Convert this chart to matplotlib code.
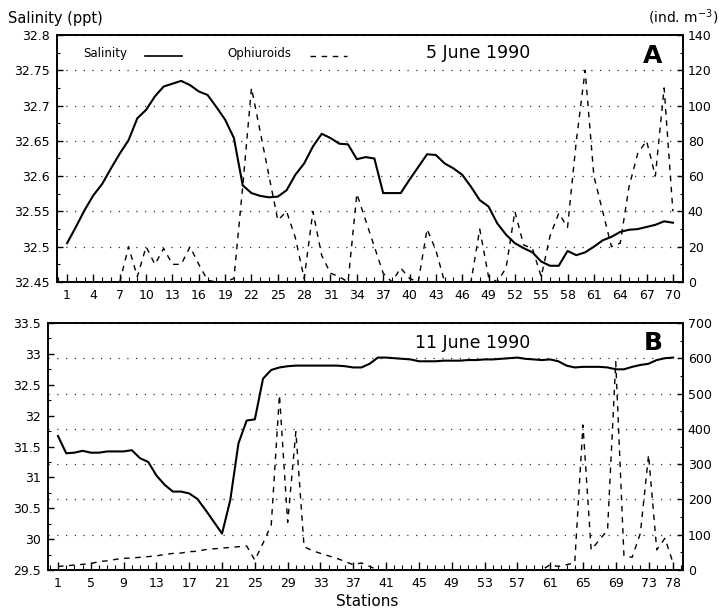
import numpy as np
import matplotlib
matplotlib.use("Agg")
from matplotlib import pyplot as plt
from matplotlib.ticker import MultipleLocator, FuncFormatter

# ---- panel A, 5 June 1990 ----
stations_a = list(range(1, 71))
salinity_a = [32.505, 32.528, 32.552, 32.573, 32.589, 32.611, 32.632, 32.651, 32.682, 32.694,
              32.713, 32.727, 32.731, 32.735, 32.729, 32.720, 32.715, 32.698, 32.680, 32.654,
              32.587, 32.576, 32.572, 32.570, 32.571, 32.580, 32.602, 32.618, 32.642, 32.660,
              32.654, 32.646, 32.645, 32.624, 32.627, 32.625, 32.576, 32.576, 32.576, 32.595,
              32.613, 32.631, 32.630, 32.618, 32.611, 32.602, 32.585, 32.566, 32.557, 32.533,
              32.517, 32.505, 32.498, 32.492, 32.479, 32.473, 32.473, 32.494, 32.488, 32.492,
              32.500, 32.509, 32.514, 32.521, 32.524, 32.525, 32.528, 32.531, 32.536, 32.534]
ophiuroids_a = [np.nan, np.nan, np.nan, np.nan, np.nan, np.nan, 0, 20, 3, 20,
                10, 19, 10, 10, 20, 10, 1, 0, 0, 2,
                54, 110, 85, 60, 35, 40, 25, 2, 40, 15,
                5, 3, 0, 50, 35, 20, 5, 0, 8, 2,
                0, 30, 18, 0, 0, 0, 0, 30, 3, 0,
                8, 40, 21, 19, 3, 26, 39, 31, 80, 120,
                60, 40, 20, 22, 54, 73, 80, 60, 110, 40]
ticks_a = list(range(1, 71, 3))
labels_a = [str(t) for t in ticks_a]

# ---- panel B, 11 June 1990 ----
stations_b = list(range(1, 77))
salinity_b = [31.67, 31.39, 31.40, 31.43, 31.40, 31.40, 31.42, 31.42, 31.42, 31.44,
              31.31, 31.25, 31.03, 30.88, 30.77, 30.77, 30.74, 30.65, 30.47, 30.28,
              30.09, 30.63, 31.55, 31.92, 31.94, 32.60, 32.74, 32.78, 32.80, 32.81,
              32.81, 32.81, 32.81, 32.81, 32.81, 32.80, 32.78, 32.78, 32.84, 32.94,
              32.94, 32.93, 32.92, 32.91, 32.88, 32.88, 32.88, 32.89, 32.89, 32.89,
              32.90, 32.90, 32.91, 32.91, 32.92, 32.93, 32.94, 32.92, 32.91, 32.90,
              32.91, 32.88, 32.81, 32.78, 32.79, 32.79, 32.79, 32.78, 32.75, 32.75,
              32.79, 32.82, 32.84, 32.90, 32.93, 32.94]
ophiuroids_b = [10, 12, 14, 16, 18, 24, 26, 30, 33, 34,
                36, 38, 40, 44, 47, 48, 52, 53, 58, 60,
                62, 64, 66, 68, 28, 76, 128, 496, 135, 392,
                66, 55, 47, 40, 33, 24, 15, 20, 10, 0,
                0, 0, 0, 0, 0, 0, 0, 0, 0, 0,
                0, 0, 0, 0, 0, 0, 0, 0, 0, 0,
                15, 10, 15, 20, 411, 57, 85, 113, 590, 40,
                36, 104, 326, 57, 90, 19]
ticks_b = list(range(1, 74, 4)) + [76]
labels_b = [str(t) for t in range(1, 74, 4)] + ["78"]

plt.rcParams["font.family"] = "DejaVu Sans"

fig = plt.figure(figsize=(7.19, 6.14), dpi=100)
W, H = 719.0, 614.0
ax1 = fig.add_axes([57 / W, 1 - 282 / H, 626 / W, 247 / H])
ax2 = fig.add_axes([48 / W, 1 - 570 / H, 635 / W, 247 / H])

fmt = FuncFormatter(lambda v, p: "%g" % round(v, 3))


def style(ax, axr, xmaj, xlabels, xlim, yl, ymaj, ymin, yr, rmaj, rmin):
    ax.set_xlim(*xlim)
    ax.set_ylim(*yl)
    axr.set_ylim(*yr)
    ax.set_xticks(xmaj)
    ax.set_xticklabels(xlabels)
    ax.xaxis.set_minor_locator(MultipleLocator(1))
    ax.yaxis.set_major_locator(MultipleLocator(ymaj))
    ax.yaxis.set_minor_locator(MultipleLocator(ymin))
    ax.yaxis.set_major_formatter(fmt)
    axr.yaxis.set_major_locator(MultipleLocator(rmaj))
    axr.yaxis.set_minor_locator(MultipleLocator(rmin))
    for a in (ax, axr):
        a.tick_params(which="major", direction="in", length=4, width=1, labelsize=9, pad=5)
        a.tick_params(which="minor", direction="in", length=2.5, width=0.8)
        for s in a.spines.values():
            s.set_linewidth(1.2)
    ax.tick_params(axis="x", which="major", length=6)
    ax.tick_params(axis="x", which="minor", length=3.5)
    ax.tick_params(axis="x", top=False, which="both")
    axr.tick_params(axis="y", pad=3.5)
    axr.yaxis.grid(True, which="major", linestyle=(0, (1, 6)), color="#333333", linewidth=0.9)


# panel A
ax1r = ax1.twinx()
ax1.plot(stations_a, salinity_a, color="black", linewidth=1.5)
ax1r.plot(stations_a, ophiuroids_a, color="black", linewidth=1.0, linestyle=(0, (4, 4)))
style(ax1, ax1r, ticks_a, labels_a, (-0.15, 71.15), (32.45, 32.8), 0.05, 0.025,
      (0, 140), 20, 10)
ax1.set_zorder(ax1r.get_zorder() + 1)
ax1.patch.set_visible(False)

# panel B
ax2r = ax2.twinx()
ax2.plot(stations_b, salinity_b, color="black", linewidth=1.5)
ax2r.plot(stations_b, ophiuroids_b, color="black", linewidth=1.0, linestyle=(0, (4, 4)))
style(ax2, ax2r, ticks_b, labels_b, (-0.22, 77.2), (29.5, 33.5), 0.5, 0.25,
      (0, 700), 100, 50)
ax2.set_zorder(ax2r.get_zorder() + 1)
ax2.patch.set_visible(False)

# legend-like text in panel A
fig.text(83 / W, 1 - 53 / H, "Salinity", fontsize=8.5, va="center")
fig.add_artist(plt.Line2D([145 / W, 182 / W], [1 - 56 / H, 1 - 56 / H], color="black", lw=1.2))
fig.text(227 / W, 1 - 53 / H, "Ophiuroids", fontsize=8.5, va="center")
fig.add_artist(plt.Line2D([310 / W, 347 / W], [1 - 56 / H, 1 - 56 / H], color="black", lw=1.0,
                          linestyle=(0, (4, 4))))

fig.text(478 / W, 1 - 53 / H, "5 June 1990", fontsize=12.5, ha="center", va="center")
fig.text(653 / W, 1 - 56 / H, "A", fontsize=18, fontweight="bold", ha="center", va="center")
fig.text(473 / W, 1 - 343 / H, "11 June 1990", fontsize=12.5, ha="center", va="center")
fig.text(653 / W, 1 - 343 / H, "B", fontsize=18, fontweight="bold", ha="center", va="center")

fig.text(8 / W, 1 - 18 / H, "Salinity (ppt)", fontsize=10.5, va="center")
fig.text(718 / W, 1 - 17 / H, "(ind. m$^{-3}$)", fontsize=10, ha="right", va="center")
fig.text(367 / W, 1 - 602 / H, "Stations", fontsize=11, ha="center", va="center")

fig.savefig("out.png", dpi=100)
